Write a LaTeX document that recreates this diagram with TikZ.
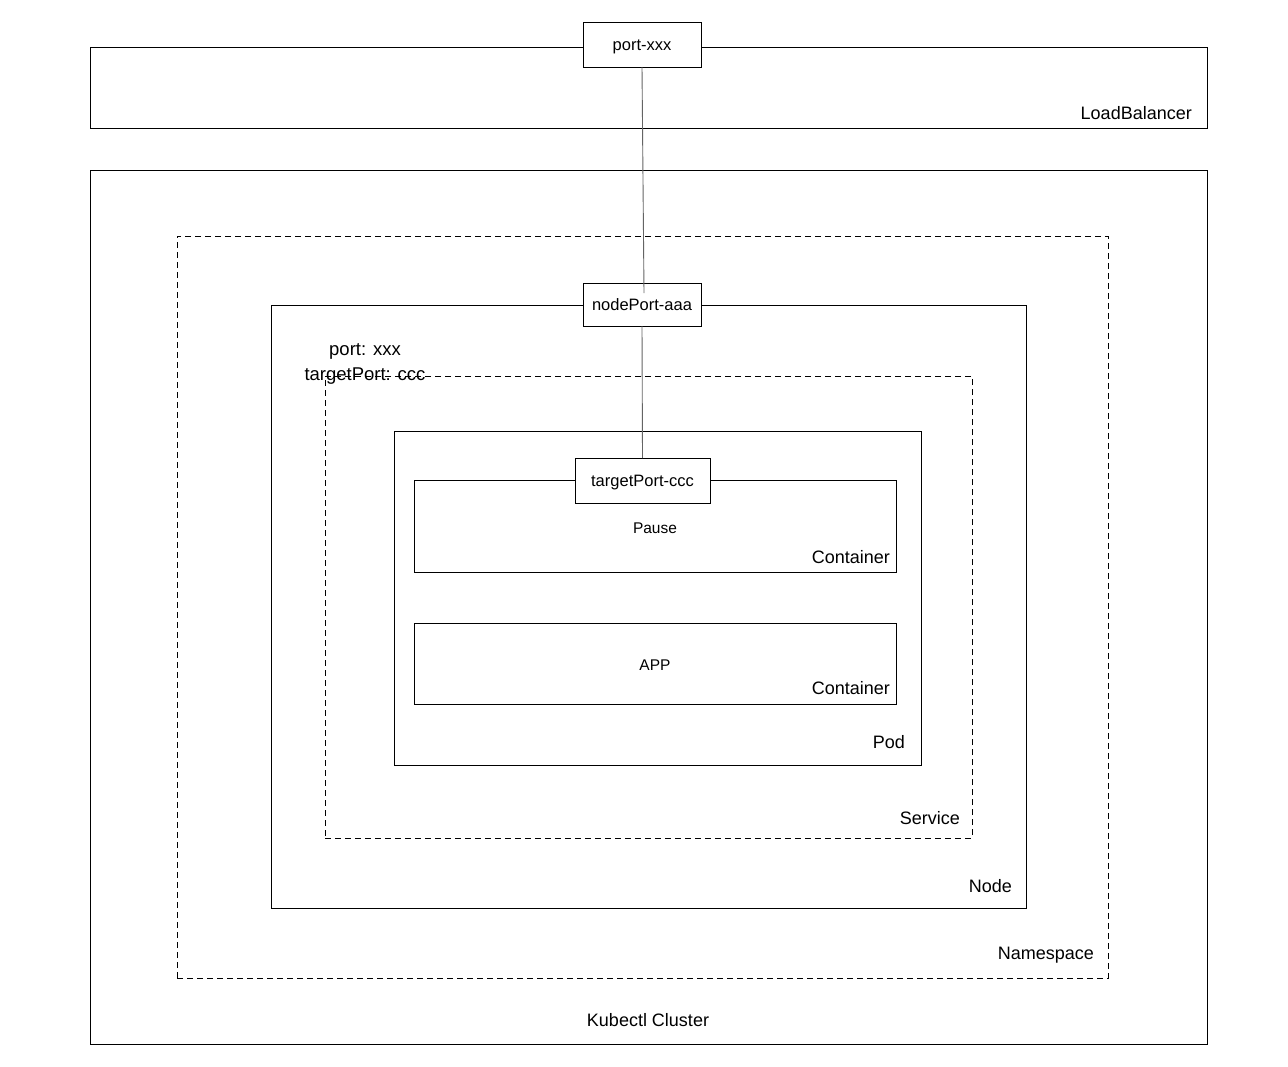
\documentclass[tikz,border=0pt]{standalone}
\usepackage{fontspec}
\setmainfont{Liberation Sans}
\definecolor{wirec}{RGB}{100,100,100}
\begin{document}
\begin{tikzpicture}[x=1pt,y=-1pt,
  frame/.style={draw, line width=0.9pt, anchor=north west, inner sep=0pt, outer sep=0pt},
  dframe/.style={frame, dash pattern=on 6pt off 4pt},
  portbox/.style={draw, fill=white, line width=0.9pt, anchor=north west, inner sep=0pt, outer sep=0pt, text height=11.5pt, text depth=0pt, font=\fontsize{16.5}{19}\selectfont},
  biglbl/.style={inner sep=0pt, font=\fontsize{18}{21}\selectfont},
  smalllbl/.style={inner sep=0pt, font=\fontsize{15.5}{18}\selectfont},
  wire/.style={draw=wirec, line width=0.9pt}]
\fill[white] (0,0) rectangle (1288,1066);
\useasboundingbox (0,0) rectangle (1288,1066);
% frames
\node[frame, minimum width=1117pt, minimum height=81pt] (lb) at (90,47) {};
\node[frame, minimum width=1117pt, minimum height=874pt] (cluster) at (90,170) {};
\node[dframe, minimum width=931pt, minimum height=742pt] (ns) at (177,236) {};
\node[frame, minimum width=755pt, minimum height=603pt] (nodebox) at (271,305) {};
\node[dframe, minimum width=647pt, minimum height=462pt] (svc) at (325,376) {};
\node[frame, minimum width=527pt, minimum height=334pt] (pod) at (394,431) {};
\node[frame, minimum width=482pt, minimum height=92pt] (pause) at (414,480) {};
\node[frame, minimum width=482pt, minimum height=81pt] (app) at (414,623) {};
% port boxes
\node[portbox, minimum width=118pt, minimum height=45pt] (pxxx) at (583,22) {port-xxx};
\node[portbox, minimum width=118pt, minimum height=43pt] (npaaa) at (583,283) {nodePort-aaa};
\node[portbox, minimum width=135pt, minimum height=45pt] (tpccc) at (575,458) {targetPort-ccc};
% wires
\coordinate (wend) at (644,293);
\draw[wire] (pxxx.south) -- (wend);
\draw[wire] (npaaa.south) -- (tpccc.north);
% labels
\node[biglbl, anchor=base east] (lblb) at (1192,119) {LoadBalancer};
\node[biglbl, anchor=base] (lbcl) at (648,1026) {Kubectl Cluster};
\node[biglbl, anchor=base east] (lbns) at (1094,959) {Namespace};
\node[biglbl, anchor=base east] (lbnode) at (1012,892) {Node};
\node[biglbl, anchor=base east] (lbsvc) at (960,824) {Service};
\node[biglbl, anchor=base east] (lbpod) at (905,748) {Pod};
\node[biglbl, anchor=base east] (lbc1) at (890,563) {Container};
\node[biglbl, anchor=base east] (lbc2) at (890,694) {Container};
\node[smalllbl, anchor=base] (lbpause) at (655,533) {Pause};
\node[smalllbl, anchor=base] (lbapp) at (655,670) {APP};
\node[biglbl, anchor=base, font=\fontsize{18.5}{21}\selectfont] (lbport) at (365,355) {port: xxx};
\node[biglbl, anchor=base, font=\fontsize{18.5}{21}\selectfont] (lbtp) at (365,380) {targetPort: ccc};
\end{tikzpicture}
\end{document}
